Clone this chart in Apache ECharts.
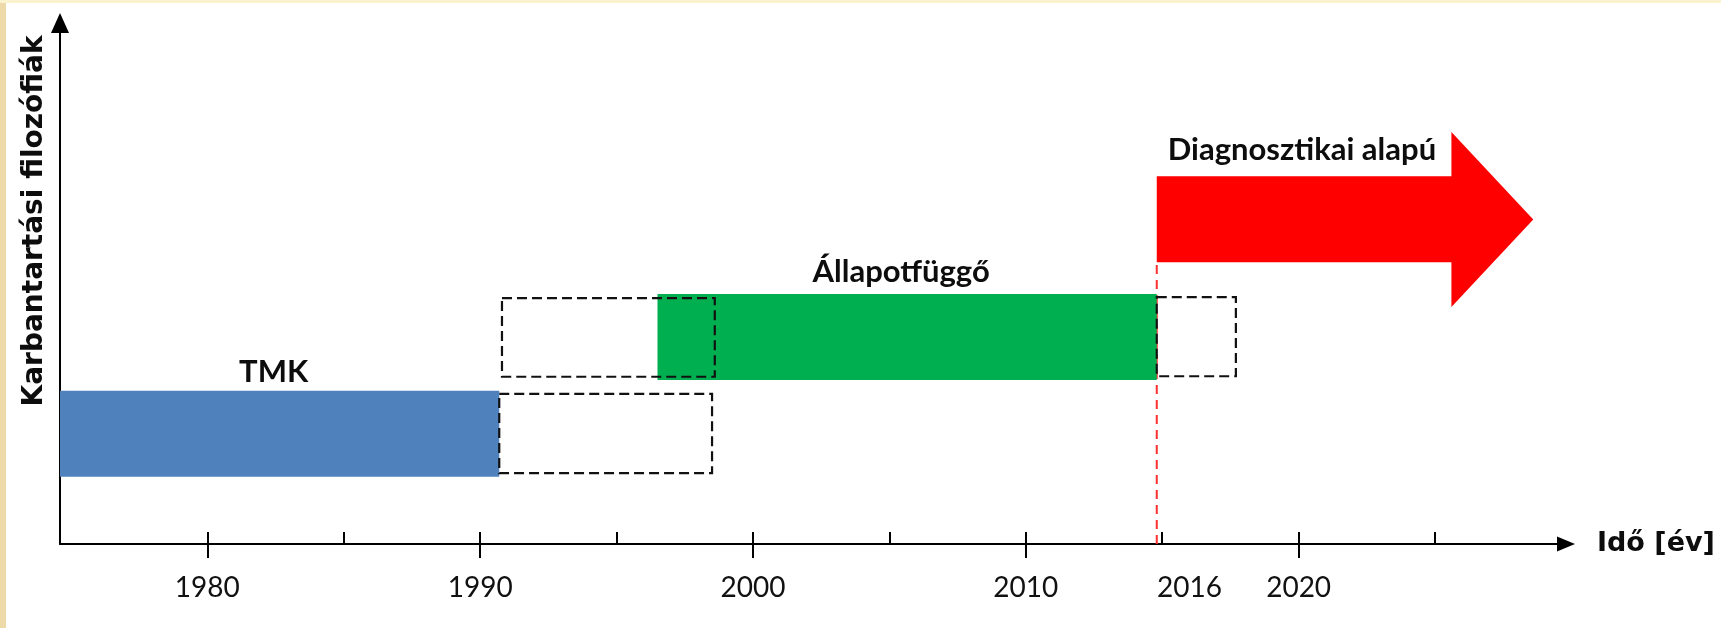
<!DOCTYPE html>
<html><head><meta charset="utf-8">
<script src="https://cdn.jsdelivr.net/npm/echarts@6/dist/echarts.min.js"></script>
<style>html,body{margin:0;padding:0;background:#fff}#c{width:1721px;height:628px}</style>
</head><body><div id="c"></div>
<script>
// ---- data (years on x, abstract level on y) ----
const phaseNames = ['TMK', 'Állapotfüggő', 'Diagnosztikai alapú'];
const phaseStart = [1974.6, 1996.5, 2014.8];
const phaseEnd = [1990.7, 2014.8, 2025.6];
const phaseLow = [12.9, 31.5, 54.1];
const phaseHigh = [29.4, 48.0, 70.6];
const phaseTip = [null, null, 2028.6];
const phaseHeadLow = [null, null, 45.5];
const phaseHeadHigh = [null, null, 79.1];
const extStart = [1990.7, 1990.8, 2014.8];
const extEnd = [1998.5, 1998.6, 2017.7];
const extLow = [13.6, 32.1, 32.2];
const extHigh = [28.8, 47.2, 47.4];
const markerYear = 2014.8;
const majorTicks = [1980, 1990, 2000, 2010, 2020];
const minorTicks = [1985, 1995, 2005, 2015, 2025];
const tickLabels = [1980, 1990, 2000, 2010, 2016, 2020];
const xName = 'Idő [év]';
const yName = 'Karbantartási filozófiák';
const xMin = 1974.6, xMax = 2029.8, yMin = 0, yMax = 100;

// ---- styles ----
const phaseColors = ['#4f81bd', '#00b050', '#ff0000'];
const labelFont = 'Lato, "Noto Sans", sans-serif';
const axisFont = '"DejaVu Sans", sans-serif';
const labelLift = [3, 6, 11];

const chart = echarts.init(document.getElementById('c'), null, {renderer: 'canvas'});

function renderPhase(params, api) {
  const i = params.dataIndex;
  const s = api.value(0), e = api.value(1), lo = api.value(2), hi = api.value(3);
  const tl = api.coord([s, hi]);
  const br = api.coord([e, lo]);
  const children = [];
  if (phaseTip[i] != null) {
    const hTop = api.coord([e, phaseHeadHigh[i]]);
    const hBot = api.coord([e, phaseHeadLow[i]]);
    const tip = api.coord([phaseTip[i], (phaseHeadLow[i] + phaseHeadHigh[i]) / 2]);
    children.push({
      type: 'polygon',
      shape: {points: [[tl[0], tl[1]], [br[0], tl[1]], [hTop[0], hTop[1]], [tip[0], tip[1]],
                       [hBot[0], hBot[1]], [br[0], br[1]], [tl[0], br[1]]]},
      style: {fill: phaseColors[i]}
    });
    children.push({
      type: 'text', x: tl[0] + 11, y: tl[1] - labelLift[i],
      style: {text: phaseNames[i], fontFamily: labelFont, fontWeight: 'bold', fontSize: 31,
              fill: '#0d0d0d', align: 'left', verticalAlign: 'bottom'}
    });
  } else {
    children.push({
      type: 'rect',
      shape: {x: tl[0], y: tl[1], width: br[0] - tl[0], height: br[1] - tl[1]},
      style: {fill: phaseColors[i]}
    });
    children.push({
      type: 'text', x: (tl[0] + br[0]) / 2 - 6, y: tl[1] - labelLift[i],
      style: {text: phaseNames[i], fontFamily: labelFont, fontWeight: 'bold', fontSize: 31,
              fill: '#0d0d0d', align: 'center', verticalAlign: 'bottom'}
    });
  }
  return {type: 'group', children};
}

function renderExt(params, api) {
  const tl = api.coord([api.value(0), api.value(3)]);
  const br = api.coord([api.value(1), api.value(2)]);
  return {
    type: 'rect',
    shape: {x: tl[0], y: tl[1], width: br[0] - tl[0], height: br[1] - tl[1]},
    style: {fill: 'none', stroke: '#111', lineWidth: 2.2, lineDash: [10, 5]}
  };
}

function renderMarker(params, api) {
  const a = api.coord([api.value(0), api.value(1)]);
  const b = api.coord([api.value(0), api.value(2)]);
  return {
    type: 'line',
    shape: {x1: a[0], y1: a[1], x2: b[0], y2: b[1]},
    style: {stroke: '#ff3030', lineWidth: 2, lineDash: [9, 6]}
  };
}

const option = {
  backgroundColor: '#ffffff',
  animation: false,
  graphic: [
    {type: 'rect', left: 0, top: 0, shape: {width: 6, height: 628}, style: {fill: '#eed9a8'}, z: -10},
    {type: 'rect', left: 0, top: 0, shape: {width: 1721, height: 3}, style: {fill: '#fbf2cf'}, z: -10}
  ],
  grid: {left: 60, right: 155, top: 23, bottom: 84},
  xAxis: [{
    type: 'value', min: xMin, max: xMax,
    name: xName, nameLocation: 'end', nameGap: 31,
    nameTextStyle: {fontFamily: axisFont, fontWeight: 'bold', fontSize: 27, color: '#0d0d0d', verticalAlign: 'middle'},
    axisLine: {show: true, symbol: ['none', 'triangle'], symbolSize: [15, 18], lineStyle: {color: '#000', width: 2}},
    axisTick: {show: true, inside: true, length: 12, customValues: majorTicks.concat(minorTicks), lineStyle: {color: '#000', width: 2}},
    axisLabel: {show: true, customValues: tickLabels, margin: 30, fontFamily: labelFont, fontSize: 28, color: '#111',
                formatter: v => String(v)},
    splitLine: {show: false}
  }, {
    type: 'value', min: xMin, max: xMax, position: 'bottom', offset: 0,
    axisLine: {show: false},
    axisTick: {show: true, inside: false, length: 14, customValues: majorTicks, lineStyle: {color: '#000', width: 2}},
    axisLabel: {show: false},
    splitLine: {show: false}
  }],
  yAxis: {
    type: 'value', min: yMin, max: yMax,
    name: yName, nameLocation: 'middle', nameRotate: 90, nameGap: 11,
    nameTextStyle: {fontFamily: axisFont, fontWeight: 'bold', fontSize: 28, color: '#0d0d0d', padding: [0, 0, 0, 125]},
    axisLine: {show: true, symbol: ['none', 'triangle'], symbolSize: [18, 20], lineStyle: {color: '#000', width: 2}},
    axisTick: {show: false}, axisLabel: {show: false}, splitLine: {show: false}
  },
  series: [{
    type: 'custom', name: 'marker', z: 1,
    renderItem: renderMarker,
    data: [[markerYear, yMin, phaseLow[2]]],
    encode: {x: 0, y: [1, 2]}
  }, {
    type: 'custom', name: 'phases', z: 2,
    renderItem: renderPhase,
    data: phaseNames.map((n, i) => [phaseStart[i], phaseEnd[i], phaseLow[i], phaseHigh[i]]),
    encode: {x: [0, 1], y: [2, 3]}
  }, {
    type: 'custom', name: 'extensions', z: 3,
    renderItem: renderExt,
    data: extStart.map((s, i) => [s, extEnd[i], extLow[i], extHigh[i]]),
    encode: {x: [0, 1], y: [2, 3]}
  }]
};
chart.setOption(option);
</script></body></html>
